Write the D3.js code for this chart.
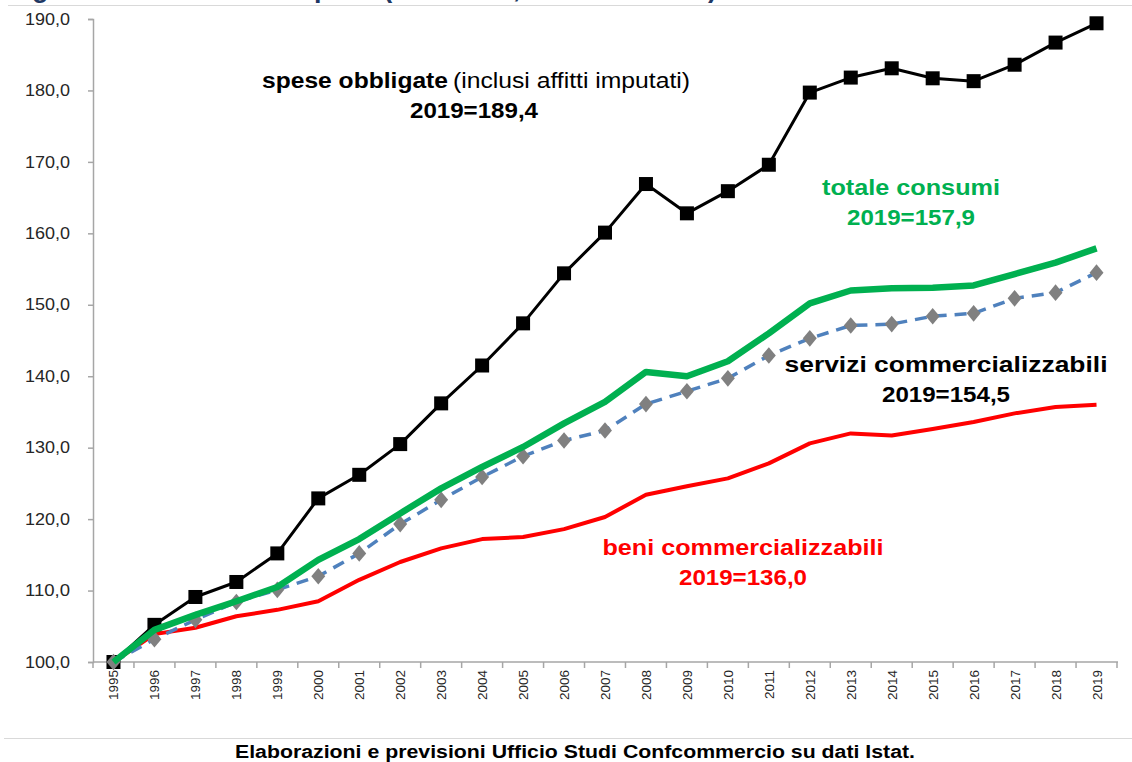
<!DOCTYPE html>
<html>
<head>
<meta charset="utf-8">
<script src="https://cdn.jsdelivr.net/npm/d3@7"></script>
<style>
  body { margin: 0; background: #fff; }
  svg { display: block; font-family: Arial, "Liberation Sans", sans-serif; }
</style>
</head>
<body>
<svg id="chart"></svg>
<script>
const years = ['1995', '1996', '1997', '1998', '1999', '2000', '2001', '2002', '2003', '2004', '2005', '2006',
  '2007', '2008', '2009', '2010', '2011', '2012', '2013', '2014', '2015', '2016', '2017', '2018', '2019'];

const speseObbligate = [100.0, 105.2, 109.1, 111.2, 115.2, 122.9, 126.2, 130.5, 136.2, 141.5, 147.4, 154.4,
  160.1, 166.9, 162.8, 165.9, 169.6, 179.7, 181.8, 183.1, 181.7, 181.3, 183.6, 186.7, 189.4];
const totaleConsumi = [100.0, 104.5, 106.6, 108.5, 110.5, 114.3, 117.2, 120.8, 124.3, 127.3, 130.1, 133.4,
  136.4, 140.6, 140.0, 142.1, 146.0, 150.2, 152.0, 152.3, 152.4, 152.7, 154.3, 155.9, 157.9];
const serviziComm = [100.0, 103.2, 105.9, 108.4, 110.1, 112.0, 115.2, 119.3, 122.7, 125.9, 128.8, 131.0,
  132.4, 136.1, 137.9, 139.7, 142.9, 145.3, 147.1, 147.3, 148.4, 148.8, 150.9, 151.7, 154.5];
const beniComm = [100.0, 103.9, 104.8, 106.4, 107.3, 108.5, 111.5, 114.0, 115.9, 117.2, 117.5, 118.6,
  120.3, 123.4, 124.6, 125.7, 127.8, 130.6, 132.0, 131.7, 132.6, 133.6, 134.8, 135.7, 136.0];

const yTicks = [100, 110, 120, 130, 140, 150, 160, 170, 180, 190];

const width = 1132;
const height = 762;
const svg = d3.select('#chart').attr('width', width).attr('height', height);

// title cut at the top of the picture, only descenders show
svg.append('text')
  .attr('x', 8).attr('y', -3.5)
  .attr('font-size', 27).attr('font-weight', 'bold').attr('fill', '#1f3864')
  .text('Fig. 1 - Dinamica della spesa (1995=100, valori correnti)');
svg.append('line')
  .attr('x1', 8).attr('x2', width).attr('y1', 5.5).attr('y2', 5.5)
  .attr('stroke', '#d9d9d9').attr('stroke-width', 1);

const x = d3.scaleBand().domain(years).range([93, 1117]);
const y = d3.scaleLinear().domain([100, 190]).range([662, 19]);
const cx = d => x(d) + x.bandwidth() / 2;

const axisColor = '#a6a6a6';

// y axis
const gy = svg.append('g')
  .attr('transform', 'translate(93,0)')
  .call(d3.axisLeft(y).tickValues(yTicks).tickSize(5).tickPadding(18)
    .tickFormat(d => d3.format('.1f')(d).replace('.', ',')));
gy.select('.domain').attr('stroke', axisColor).attr('stroke-width', 1.5);
gy.selectAll('.tick line').attr('stroke', axisColor).attr('stroke-width', 1.5);
gy.selectAll('.tick text')
  .attr('font-size', 16).attr('fill', '#262626')
  .attr('font-family', 'Arial, "Liberation Sans", sans-serif')
  .attr('textLength', 45).attr('lengthAdjust', 'spacingAndGlyphs');

// x axis with ticks between categories
const gx = svg.append('g').attr('transform', 'translate(0,662)');
gx.append('line')
  .attr('x1', 93).attr('x2', 1118).attr('stroke', axisColor).attr('stroke-width', 1.5);
gx.selectAll('line.tk')
  .data(years.concat(['end']))
  .join('line')
  .attr('class', 'tk')
  .attr('x1', d => (d === 'end' ? x.range()[1] : x(d)))
  .attr('x2', d => (d === 'end' ? x.range()[1] : x(d)))
  .attr('y1', 0).attr('y2', 6)
  .attr('stroke', axisColor).attr('stroke-width', 1.5);
gx.selectAll('text')
  .data(years)
  .join('text')
  .attr('transform', d => `translate(${cx(d) + 5},8) rotate(-90)`)
  .attr('text-anchor', 'end')
  .attr('font-size', 13.5).attr('fill', '#262626')
  .text(d => d);

const line = d3.line().x((d, i) => cx(years[i])).y(d => y(d));

// spese obbligate
svg.append('path').datum(speseObbligate)
  .attr('d', line).attr('fill', 'none').attr('stroke', '#000').attr('stroke-width', 3)
  .attr('stroke-linejoin', 'round');
svg.append('g').selectAll('rect')
  .data(speseObbligate)
  .join('rect')
  .attr('x', (d, i) => cx(years[i]) - 7).attr('y', d => y(d) - 7)
  .attr('width', 14).attr('height', 14).attr('fill', '#000');

// beni commercializzabili
svg.append('path').datum(beniComm)
  .attr('d', line).attr('fill', 'none').attr('stroke', '#ff0000').attr('stroke-width', 4)
  .attr('stroke-linejoin', 'round');

// servizi commercializzabili
svg.append('path').datum(serviziComm)
  .attr('d', line).attr('fill', 'none').attr('stroke', '#4f81bd').attr('stroke-width', 3.5)
  .attr('stroke-dasharray', '12,8');
const diamond = d3.symbol().type(d3.symbolDiamond).size(80);
svg.append('g').selectAll('path')
  .data(serviziComm)
  .join('path')
  .attr('d', diamond)
  .attr('transform', (d, i) => `translate(${cx(years[i])},${y(d)}) scale(1.45,1)`)
  .attr('fill', '#808080');

// totale consumi
svg.append('path').datum(totaleConsumi)
  .attr('d', line).attr('fill', 'none').attr('stroke', '#00b050').attr('stroke-width', 6.5)
  .attr('stroke-linejoin', 'round');

// annotations, stretched to the widths seen in the picture
const ann = svg.append('g').attr('font-size', 22).attr('font-weight', 'bold').attr('text-anchor', 'middle');
const label = (txt, cxPos, yPos, w, color) => ann.append('text')
  .attr('x', cxPos).attr('y', yPos).attr('fill', color)
  .attr('textLength', w).attr('lengthAdjust', 'spacingAndGlyphs')
  .text(txt);

ann.append('text').attr('x', 262).attr('y', 88).attr('text-anchor', 'start')
  .attr('textLength', 186).attr('lengthAdjust', 'spacingAndGlyphs').text('spese obbligate');
ann.append('text').attr('x', 453).attr('y', 88).attr('text-anchor', 'start').attr('font-weight', 'normal')
  .attr('textLength', 237).attr('lengthAdjust', 'spacingAndGlyphs').text('(inclusi affitti imputati)');
label('2019=189,4', 474, 118, 128, '#000');

label('totale consumi', 911, 195, 178, '#00b050');
label('2019=157,9', 911, 225, 128, '#00b050');

label('servizi commercializzabili', 946, 372, 323, '#000');
label('2019=154,5', 946, 402, 128, '#000');

label('beni commercializzabili', 743, 555, 281, '#ff0000');
label('2019=136,0', 743, 585, 128, '#ff0000');

// footer
svg.append('line')
  .attr('x1', 4).attr('x2', width).attr('y1', 738.5).attr('y2', 738.5)
  .attr('stroke', '#d9d9d9').attr('stroke-width', 1);
svg.append('text')
  .attr('x', 575).attr('y', 758).attr('text-anchor', 'middle')
  .attr('font-size', 17.5).attr('font-weight', 'bold').attr('fill', '#000')
  .attr('textLength', 680).attr('lengthAdjust', 'spacingAndGlyphs')
  .text('Elaborazioni e previsioni Ufficio Studi Confcommercio su dati Istat.');
</script>
</body>
</html>
